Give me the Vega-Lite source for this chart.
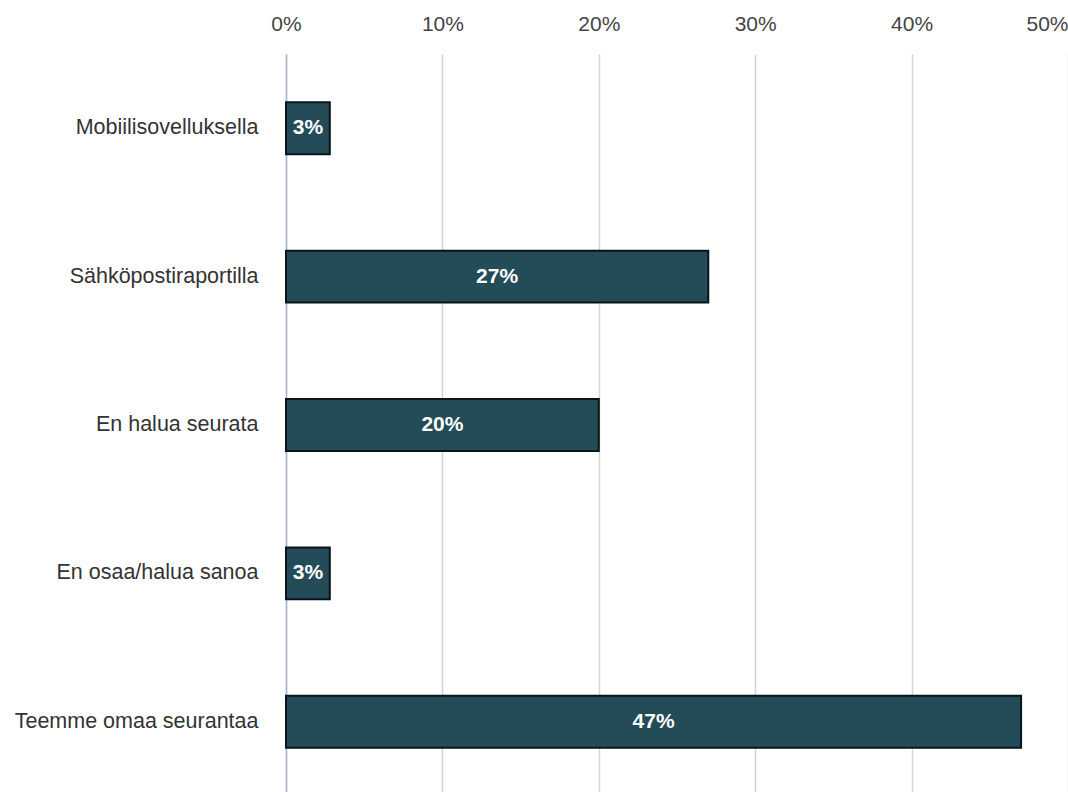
{
  "$schema": "https://vega.github.io/schema/vega-lite/v6.json",
  "width": 782,
  "height": 742,
  "autosize": {"type": "none"},
  "padding": {"left": 286, "top": 54, "right": 0, "bottom": 0},
  "background": "white",
  "config": {"view": {"stroke": null}, "font": "Liberation Sans"},
  "data": {
    "values": [
      {"answer": "Mobiilisovelluksella", "share": 0.028},
      {"answer": "Sähköpostiraportilla", "share": 0.27},
      {"answer": "En halua seurata", "share": 0.2},
      {"answer": "En osaa/halua sanoa", "share": 0.028},
      {"answer": "Teemme omaa seurantaa", "share": 0.47}
    ]
  },
  "encoding": {
    "y": {
      "field": "answer",
      "type": "nominal",
      "sort": null,
      "title": null,
      "scale": {"paddingInner": 0.65, "paddingOuter": 0.325},
      "axis": {
        "domain": true,
        "domainColor": "#aab4cc",
        "domainWidth": 1.5,
        "ticks": false,
        "labelPadding": 28,
        "labelFontSize": 21.5,
        "labelColor": "#333333",
        "labelLimit": 300
      }
    }
  },
  "layer": [
    {
      "mark": {"type": "bar", "fill": "#244b58", "stroke": "#0a1519", "strokeWidth": 2},
      "encoding": {
        "x": {
          "field": "share",
          "type": "quantitative",
          "scale": {"domain": [0, 0.5]},
          "axis": {
            "orient": "top",
            "format": ".0%",
            "values": [0, 0.1, 0.2, 0.3, 0.4, 0.5],
            "grid": true,
            "gridColor": "#d3d3d3",
            "gridWidth": 1.5,
            "domain": false,
            "ticks": false,
            "labelFlush": false,
            "labelAlign": {"condition": {"test": "datum.value >= 0.5", "value": "right"}, "value": "center"},
            "labelFontSize": 21,
            "labelColor": "#444444",
            "labelPadding": 20,
            "title": null
          }
        }
      }
    },
    {
      "mark": {
        "type": "text",
        "color": "white",
        "fontWeight": "bold",
        "fontSize": 21,
        "baseline": "middle",
        "align": "center",
        "x": {"expr": "scale('x', datum.share / 2)"}
      },
      "encoding": {
        "text": {"field": "share", "format": ".0%"}
      }
    }
  ]
}
